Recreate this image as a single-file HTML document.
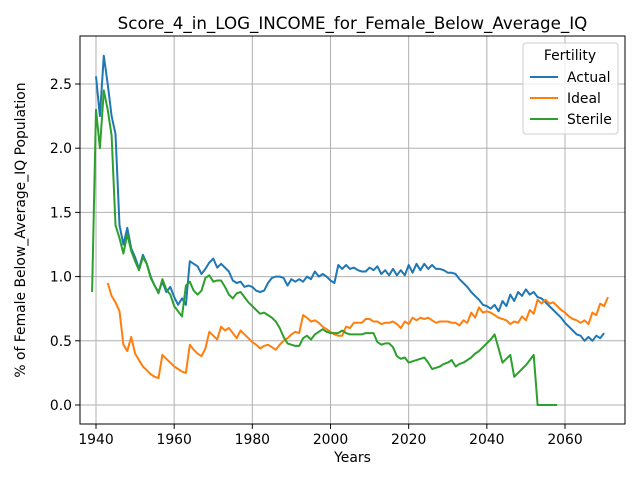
<!DOCTYPE html>
<html><head><meta charset="utf-8">
<style>body{margin:0;background:#fff}svg{display:block;font-family:"DejaVu Sans","Liberation Sans",sans-serif}</style>
</head><body>
<svg id="chart" width="640" height="480" xmlns="http://www.w3.org/2000/svg"></svg>
<script>
const actualStart=1940;
const actualValues=[2.56,2.25,2.72,2.5,2.25,2.11,1.4,1.25,1.38,1.22,1.15,1.06,1.17,1.1,1.0,0.93,0.88,0.96,0.88,0.92,0.84,0.78,0.83,0.78,1.12,1.1,1.08,1.02,1.06,1.11,1.14,1.07,1.1,1.07,1.04,0.97,0.95,0.96,0.92,0.93,0.92,0.89,0.88,0.89,0.95,0.99,1.0,1.0,0.99,0.93,0.98,0.96,0.98,0.96,1.0,0.98,1.04,1.0,1.02,1.0,0.97,0.95,1.09,1.06,1.09,1.06,1.07,1.05,1.04,1.04,1.07,1.05,1.08,1.02,1.05,1.01,1.06,1.01,1.05,1.01,1.09,1.03,1.1,1.05,1.1,1.06,1.09,1.06,1.06,1.05,1.03,1.03,1.02,0.98,0.95,0.92,0.88,0.85,0.82,0.78,0.77,0.75,0.78,0.73,0.81,0.77,0.86,0.81,0.88,0.85,0.9,0.86,0.88,0.84,0.83,0.8,0.77,0.74,0.71,0.68,0.64,0.61,0.58,0.55,0.54,0.5,0.53,0.5,0.54,0.52,0.56];
const idealStart=1943;
const idealValues=[0.95,0.85,0.8,0.73,0.47,0.42,0.53,0.4,0.35,0.3,0.27,0.24,0.22,0.21,0.39,0.36,0.33,0.3,0.28,0.26,0.25,0.47,0.43,0.4,0.38,0.44,0.57,0.54,0.51,0.61,0.58,0.6,0.56,0.52,0.58,0.55,0.52,0.49,0.47,0.44,0.46,0.47,0.45,0.43,0.47,0.5,0.52,0.55,0.57,0.56,0.7,0.68,0.65,0.66,0.64,0.61,0.59,0.57,0.55,0.54,0.54,0.61,0.6,0.64,0.64,0.64,0.67,0.67,0.65,0.65,0.63,0.64,0.64,0.65,0.63,0.6,0.65,0.63,0.68,0.66,0.68,0.67,0.68,0.66,0.64,0.65,0.65,0.65,0.64,0.64,0.62,0.66,0.64,0.72,0.68,0.76,0.72,0.73,0.72,0.7,0.68,0.67,0.66,0.63,0.65,0.64,0.69,0.66,0.74,0.71,0.82,0.79,0.82,0.79,0.8,0.77,0.74,0.72,0.69,0.67,0.66,0.64,0.66,0.63,0.72,0.7,0.79,0.77,0.84];
const sterileStart=1939;
const sterileValues=[0.88,2.3,2.0,2.45,2.3,2.1,1.4,1.3,1.18,1.33,1.2,1.12,1.05,1.15,1.1,0.99,0.93,0.87,0.98,0.9,0.86,0.77,0.73,0.69,0.93,0.96,0.89,0.86,0.89,0.99,1.01,0.96,0.97,0.97,0.92,0.86,0.83,0.87,0.88,0.84,0.8,0.77,0.74,0.71,0.72,0.7,0.68,0.65,0.6,0.53,0.48,0.47,0.46,0.46,0.52,0.54,0.51,0.55,0.57,0.59,0.57,0.56,0.56,0.56,0.58,0.56,0.55,0.55,0.55,0.55,0.56,0.56,0.56,0.49,0.47,0.48,0.48,0.45,0.38,0.36,0.37,0.33,0.34,0.35,0.36,0.37,0.33,0.28,0.29,0.3,0.32,0.33,0.35,0.3,0.32,0.33,0.35,0.37,0.4,0.42,0.45,0.48,0.51,0.55,0.44,0.33,0.36,0.39,0.22,0.25,0.28,0.31,0.35,0.39,0.0,0.0,0.0,0.0,0.0,0.0];
const xTicks=[1940,1960,1980,2000,2020,2040,2060];
const yTicks=[0.0,0.5,1.0,1.5,2.0,2.5];
const seriesNames=["Actual","Ideal","Sterile"];
const colors=["#1f77b4","#ff7f0e","#2ca02c"];

const svg=document.getElementById('chart');
const NS="http://www.w3.org/2000/svg";
const L=80,R=625,T=36,B=424;
const xs=y=>96+(y-1940)*(469/120);
const ys=v=>405-v*128.4;
function mk(tag,attrs,parent){const e=document.createElementNS(NS,tag);for(const k in attrs)e.setAttribute(k,attrs[k]);(parent||svg).appendChild(e);return e;}
const grid=mk('g',{});


xTicks.forEach(t=>{const x=xs(t);
 const g=mk('line',{x1:x,x2:x,y1:T,y2:B,stroke:'#b0b0b0','stroke-width':1},grid);
 
 const tk=mk('line',{x1:x,x2:x,y1:B,y2:B+4.9,stroke:'#000'});
 
 const tx=mk('text',{x:x,y:B+20,'text-anchor':'middle','font-size':13.9,fill:'#000'});tx.textContent=t;
 });
yTicks.forEach(t=>{const y=ys(t);
 const g=mk('line',{x1:L,x2:R,y1:y,y2:y,stroke:'#b0b0b0','stroke-width':1},grid);
 
 const tk=mk('line',{x1:L-4.9,x2:L,y1:y,y2:y,stroke:'#000'});
 
 const tx=mk('text',{x:L-8,y:y+5,'text-anchor':'end','font-size':13.9,fill:'#000'});tx.textContent=t.toFixed(1);
 });
[[actualStart,actualValues],[idealStart,idealValues],[sterileStart,sterileValues]].forEach((s,i)=>{
 const pts=s[1].map((v,j)=>xs(s[0]+j).toFixed(1)+','+ys(v).toFixed(1)).join(' ');
 const p=mk('polyline',{points:pts,fill:'none',stroke:colors[i],'stroke-width':2,'stroke-linejoin':'round'});
 
 });
const frame=mk('rect',{x:L,y:T,width:R-L,height:B-T,fill:'none',stroke:'#000','stroke-width':1});

const title=mk('text',{x:(L+R)/2,y:29,'text-anchor':'middle','font-size':16.7,fill:'#000'});title.textContent='Score_4_in_LOG_INCOME_for_Female_Below_Average_IQ';

const xt=mk('text',{x:(L+R)/2,y:462,'text-anchor':'middle','font-size':13.9,fill:'#000'});xt.textContent='Years';

const yt=mk('text',{x:0,y:0,'text-anchor':'middle','font-size':13.9,fill:'#000',transform:'translate(25,230) rotate(-90)'});yt.textContent='% of Female Below_Average_IQ Population';

const lg=mk('g',{});

mk('rect',{x:523,y:43,width:95,height:91,rx:3,fill:'#fff','fill-opacity':0.8,stroke:'#ccc'},lg);
const lt=mk('text',{x:570,y:60,'text-anchor':'middle','font-size':13.9,fill:'#000'},lg);lt.textContent='Fertility';

seriesNames.forEach((n,i)=>{const y=77+i*21;
 const e=mk('g',{},lg);
 
 mk('line',{x1:530,x2:558,y1:y,y2:y,stroke:colors[i],'stroke-width':2},e);
 const t=mk('text',{x:567,y:y+5,'font-size':13.9,fill:'#000'},e);t.textContent=n;});
</script>
</body></html>
